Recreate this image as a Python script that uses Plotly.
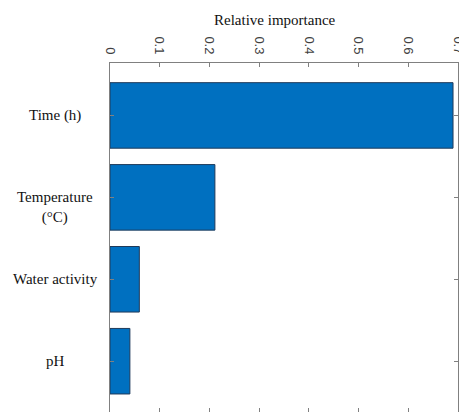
import plotly.graph_objects as go

# Relative importance of each factor
factors = ["Time (h)", "Temperature<br>(°C)", "Water activity", "pH"]
importance = [0.690, 0.211, 0.059, 0.040]
x_ticks = [0, 0.1, 0.2, 0.3, 0.4, 0.5, 0.6, 0.7]
x_tick_text = ["0", "0.1", "0.2", "0.3", "0.4", "0.5", "0.6", "0.7"]

W, H = 459, 412
M_L, M_R, M_T, M_B = 110, 1, 63, 0
plot_w = W - M_L - M_R

fig = go.Figure()
fig.add_trace(go.Bar(
    x=importance,
    y=factors,
    orientation="h",
    width=0.8,
    marker=dict(color="#0070C0", line=dict(color="#1f3a5a", width=1)),
    showlegend=False,
))

axis_color = "#808080"
fig.update_xaxes(
    side="top",
    range=[0, 0.7],
    tickvals=x_ticks,
    ticktext=x_tick_text,
    tickangle=90,
    ticks="inside",
    ticklen=4,
    tickcolor=axis_color,
    ticklabeloverflow="allow",
    ticklabelstandoff=3,
    automargin=False,
    showline=True,
    linecolor=axis_color,
    linewidth=1,
    mirror="ticks",
    showgrid=False,
    zeroline=False,
    tickfont=dict(family="Liberation Sans, Arial, sans-serif", size=13, color="#404040"),
)
fig.update_yaxes(
    categoryorder="array",
    categoryarray=factors,
    range=[3.62, -0.64],
    ticks="inside",
    ticklen=4,
    tickcolor=axis_color,
    showticklabels=False,
    automargin=False,
    showline=True,
    linecolor=axis_color,
    linewidth=1,
    mirror="ticks",
    showgrid=False,
    zeroline=False,
)

# Category labels centred in the left margin
label_x = (55 - M_L) / plot_w
for f in factors:
    multiline = "<br>" in f
    fig.add_annotation(
        x=label_x, xref="paper", y=f, yref="y",
        text=f, showarrow=False, xanchor="center", yanchor="middle",
        yshift=-10 if multiline else 0,
        font=dict(family="Liberation Serif, Times New Roman, serif", size=15, color="#111111"),
    )

# Axis title above the rotated tick labels
fig.add_annotation(
    x=(275 - M_L) / plot_w, xref="paper",
    y=1 + (M_T - 20) / (H - M_T - M_B), yref="paper",
    text="Relative importance", showarrow=False,
    xanchor="center", yanchor="middle",
    font=dict(family="Liberation Serif, Times New Roman, serif", size=15, color="#111111"),
)

fig.update_layout(
    width=W, height=H,
    margin=dict(l=M_L, r=M_R, t=M_T, b=M_B, pad=0, autoexpand=False),
    paper_bgcolor="white",
    plot_bgcolor="white",
    bargap=0.2,
)

fig.write_html("out.html")
